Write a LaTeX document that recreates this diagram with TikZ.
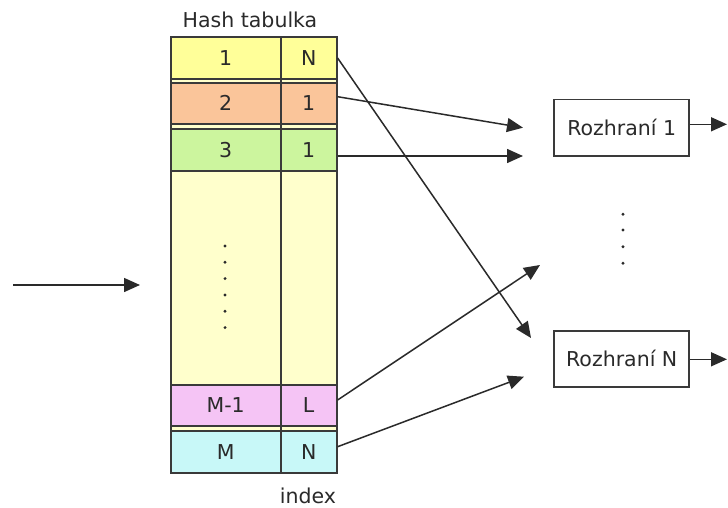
\documentclass[tikz,border=0pt]{standalone}
\usepackage{fontspec}
\setmainfont{DejaVu Sans}
\usetikzlibrary{arrows.meta}
\definecolor{edge}{HTML}{3A3A3A}
\definecolor{txt}{HTML}{2A2A2A}
\definecolor{pale}{HTML}{FFFFCC}
\definecolor{rowA}{HTML}{FFFF99}
\definecolor{rowB}{HTML}{FAC59A}
\definecolor{rowC}{HTML}{CCF59E}
\definecolor{rowD}{HTML}{F5C4F5}
\definecolor{rowE}{HTML}{C8F8F8}
\begin{document}
\begin{tikzpicture}[x=1pt,y=-1pt,
  cell/.style={draw=edge,line width=1.8pt,inner sep=0pt,text=txt,
    font=\fontsize{20.5}{24}\selectfont},
  keycell/.style={cell,minimum width=110pt},
  idxcell/.style={cell,minimum width=56pt},
  iface/.style={draw=edge,line width=1.6pt,inner sep=0pt,minimum width=135pt,
    minimum height=56pt,text=txt,font=\fontsize{20.5}{24}\selectfont},
  link/.style={draw=txt,line width=1.5pt,-{Triangle[length=16pt,width=14pt]}},
  dotmark/.style={fill=txt,circle,inner sep=0pt,minimum size=3.2pt},
  caption/.style={text=txt,font=\fontsize{20.5}{24}\selectfont}
]
\useasboundingbox (0,0) rectangle (728,508);
\fill[white] (0,0) rectangle (728,508);

% table body
\filldraw[fill=pale,draw=edge,line width=1.8pt] (170.7,36.7) rectangle (336.7,473.3);
\draw[edge,line width=1.8pt] (280.7,36.7) -- (280.7,473.3);

% rows: key cell + index cell
\node[keycell,fill=rowA,minimum height=42.6pt] (k1) at (225.7,58) {1};
\node[idxcell,fill=rowA,minimum height=42.6pt] (i1) at (308.7,58) {N};
\node[keycell,fill=rowB,minimum height=41.3pt] (k2) at (225.7,103.3) {2};
\node[idxcell,fill=rowB,minimum height=41.3pt] (i2) at (308.7,103.3) {1};
\node[keycell,fill=rowC,minimum height=41.4pt] (k3) at (225.7,150) {3};
\node[idxcell,fill=rowC,minimum height=41.4pt] (i3) at (308.7,150) {1};
\node[keycell,fill=rowD,minimum height=41pt] (k4) at (225.7,405.5) {M-1};
\node[idxcell,fill=rowD,minimum height=41pt] (i4) at (308.7,405.5) {L};
\node[keycell,fill=rowE,minimum height=42.3pt] (k5) at (225.7,452.2) {M};
\node[idxcell,fill=rowE,minimum height=42.3pt] (i5) at (308.7,452.2) {N};

% elided rows
\foreach \yy [count=\n] in {246,262.3,278.6,295,311.3,327.6}
  \node[dotmark] (kd\n) at (225,\yy) {};

\node[caption] (title) at (250,20) {Hash tabulka};
\node[caption] (idx) at (308,496) {index};

% interfaces
\node[iface] (r1) at (621.7,127.7) {Rozhraní 1};
\node[iface] (rn) at (621.7,358.7) {Rozhraní N};
\foreach \yy [count=\n] in {214.3,230,246.7,263.3}
  \node[dotmark] (rd\n) at (623,\yy) {};

% free arrow ends
\coordinate (in0) at (13,285);
\coordinate (in1) at (140,285);
\coordinate (t1) at (531,338);
\coordinate (t2) at (523,127.7);
\coordinate (t3) at (523,156);
\coordinate (t4) at (540,265);
\coordinate (t5) at (524,376.7);
\coordinate (o1) at (727,124.3);
\coordinate (on) at (727,359.3);

\draw[link] (in0) -- (in1);
\draw[link] (i1.east) -- (t1);
\draw[link] ([yshift=6.6pt]i2.east) -- (t2);
\draw[link] ([yshift=-6pt]i3.east) -- (t3);
\draw[link] ([yshift=5.5pt]i4.east) -- (t4);
\draw[link] ([yshift=5.5pt]i5.east) -- (t5);
\draw[link] (r1.east |- o1) -- (o1);
\draw[link] (rn.east |- on) -- (on);
\end{tikzpicture}
\end{document}
